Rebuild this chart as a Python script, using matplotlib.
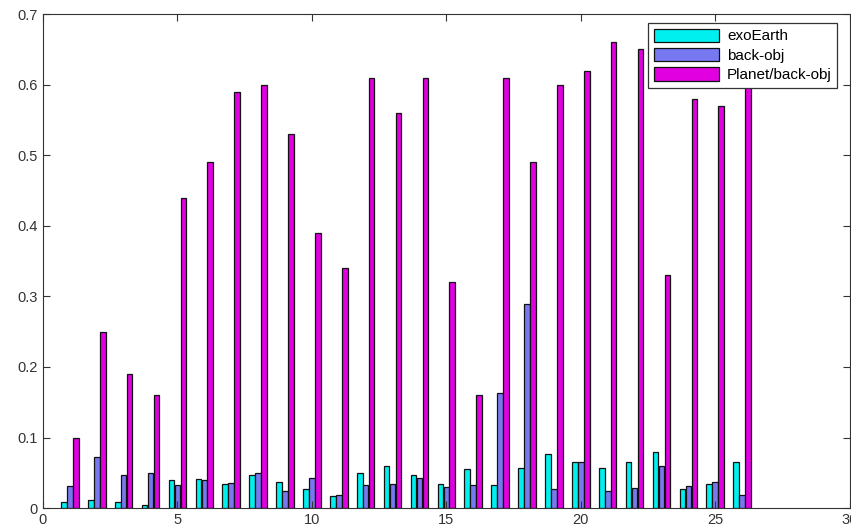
import numpy as np
import matplotlib
matplotlib.use("Agg")
import matplotlib.pyplot as plt

plt.rcParams['font.family'] = ['Liberation Sans', 'DejaVu Sans']

groups = np.arange(1, 27)
exo_earth = [0.008, 0.011, 0.008, 0.005, 0.040, 0.041, 0.034, 0.047, 0.037, 0.027,
             0.017, 0.050, 0.060, 0.047, 0.034, 0.056, 0.033, 0.057, 0.077, 0.065,
             0.057, 0.065, 0.080, 0.027, 0.034, 0.066]
back_obj = [0.031, 0.073, 0.047, 0.050, 0.033, 0.040, 0.035, 0.050, 0.024, 0.042,
            0.019, 0.033, 0.034, 0.042, 0.030, 0.033, 0.163, 0.289, 0.027, 0.066,
            0.024, 0.028, 0.060, 0.031, 0.037, 0.019]
planet_back = [0.10, 0.25, 0.19, 0.16, 0.44, 0.49, 0.59, 0.60, 0.53, 0.39,
               0.34, 0.61, 0.56, 0.61, 0.32, 0.16, 0.61, 0.49, 0.60, 0.62,
               0.66, 0.65, 0.33, 0.58, 0.57, 0.61]

fig = plt.figure(figsize=(8.51, 5.26), dpi=100)
ax = fig.add_axes([0.0505, 0.034, 0.948, 0.939])

w = 0.21
off = 0.222
ax.bar(groups - off, exo_earth, w, color="#00f0f0", edgecolor="#111111", linewidth=0.9, label="exoEarth")
ax.bar(groups, back_obj, w, color="#7878f0", edgecolor="#111111", linewidth=0.9, label="back-obj")
ax.bar(groups + off, planet_back, w, color="#e000e0", edgecolor="#111111", linewidth=0.9, label="Planet/back-obj")

ax.set_xlim(0, 30)
ax.set_ylim(0, 0.7)
ax.set_xticks([0, 5, 10, 15, 20, 25, 30])
ax.set_yticks([0, 0.1, 0.2, 0.3, 0.4, 0.5, 0.6, 0.7])
ax.set_yticklabels(["0", "0.1", "0.2", "0.3", "0.4", "0.5", "0.6", "0.7"])
ax.tick_params(direction="in", top=True, right=True, labelsize=10.5, length=5, colors="#333333")
for s in ax.spines.values():
    s.set_color("#333333")

leg = ax.legend(loc="upper right", bbox_to_anchor=(0.988, 0.988), fontsize=11, fancybox=False,
                framealpha=1, edgecolor="#333333", borderpad=0.35, labelspacing=0.3,
                handlelength=4.3, handleheight=0.95, handletextpad=0.5, borderaxespad=0.2)
leg.get_frame().set_linewidth(0.9)

plt.savefig("out.png", dpi=100)
